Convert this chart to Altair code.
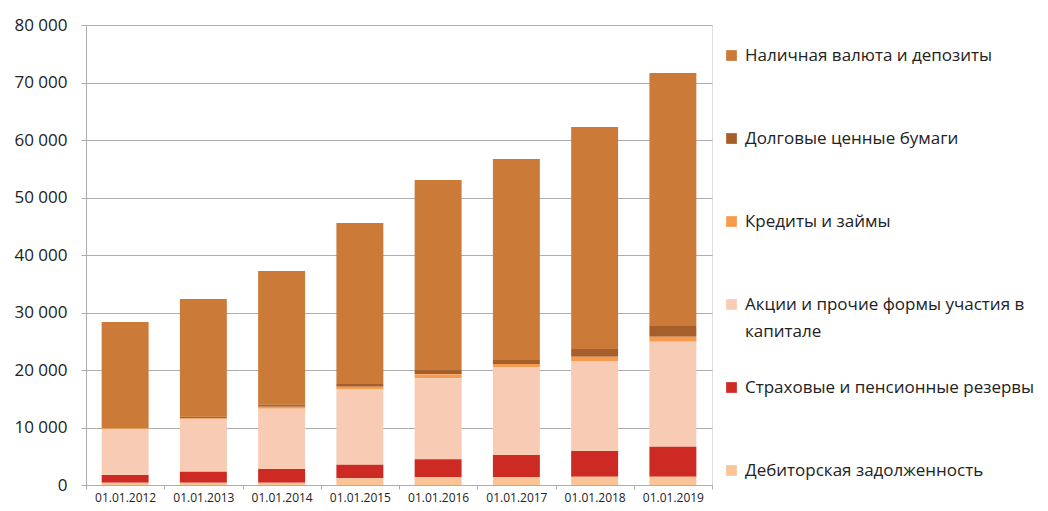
import altair as alt
import pandas as pd

years = ["01.01.2012", "01.01.2013", "01.01.2014", "01.01.2015",
         "01.01.2016", "01.01.2017", "01.01.2018", "01.01.2019"]

series_names = [
    "Наличная валюта и депозиты",
    "Долговые ценные бумаги",
    "Кредиты и займы",
    "Акции и прочие формы участия в капитале",
    "Страховые и пенсионные резервы",
    "Дебиторская задолженность",
]
series_colors = ["#CC7A38", "#A65F2B", "#F89B4F", "#F8CCB4", "#CC2A22", "#FBC497"]

nalichnaya = [18430, 20460, 23230, 28000, 33040, 34830, 38600, 44000]
dolgovye = [60, 300, 350, 460, 750, 820, 1340, 1860]
kredity = [120, 200, 350, 450, 700, 580, 750, 870]
akcii = [8000, 9080, 10490, 13110, 14090, 15250, 15660, 18260]
strahovye = [1340, 1910, 2380, 2370, 3130, 3880, 4470, 5220]
debitorskaya = [400, 400, 400, 1160, 1340, 1340, 1440, 1440]

values = [nalichnaya, dolgovye, kredity, akcii, strahovye, debitorskaya]

rows = []
for si, (name, vals) in enumerate(zip(series_names, values)):
    for y, v in zip(years, vals):
        rows.append({"year": y, "series": name, "value": v, "ord": len(series_names) - si})
df = pd.DataFrame(rows)

FONT = "Open Sans"
TXT = "#222222"
GRAY = "#ADADAD"

chart = alt.Chart(df).mark_bar(width=alt.RelativeBandSize(0.6)).encode(
    x=alt.X("year:N", sort=years, title=None,
            scale=alt.Scale(paddingInner=0, paddingOuter=0),
            axis=alt.Axis(labelAngle=0, labelFont=FONT, labelFontSize=12, labelColor=TXT,
                          domainColor=GRAY, tickColor=GRAY, tickSize=4, tickBand="extent",
                          labelPadding=3, grid=False)),
    y=alt.Y("value:Q", title=None, stack="zero",
            scale=alt.Scale(domain=[0, 80000], nice=False),
            axis=alt.Axis(values=list(range(0, 80001, 10000)),
                          labelExpr="replace(format(datum.value, ','), ',', ' ')",
                          labelFont=FONT, labelFontSize=17, labelColor=TXT,
                          domainColor=GRAY, tickColor=GRAY, tickSize=5, labelPadding=14,
                          gridColor=GRAY, gridWidth=1)),
    color=alt.Color("series:N",
                    scale=alt.Scale(domain=series_names, range=series_colors),
                    legend=alt.Legend(
                        title=None, orient="none", legendX=637, legendY=22,
                        symbolType="square", symbolSize=115, symbolStrokeWidth=0,
                        labelFont=FONT, labelFontSize=17, labelColor=TXT,
                        labelOffset=5, labelLimit=400, rowPadding=38,
                        gridAlign="all", padding=0,
                        labelExpr="datum.label == 'Акции и прочие формы участия в капитале' ? ['Акции и прочие формы участия в', 'капитале'] : datum.label")),
    order=alt.Order("ord:Q", sort="ascending"),
).properties(
    width=626, height=460,
    autosize=alt.AutoSizeParams(type="none"),
    padding={"left": 78, "top": 17, "right": 328, "bottom": 22},
).configure_view(stroke=None).configure(
    background="white",
    style={"guide-label": {"lineHeight": 27}},
)

chart.save("out.html", embed_options={"renderer": "svg", "actions": False})
